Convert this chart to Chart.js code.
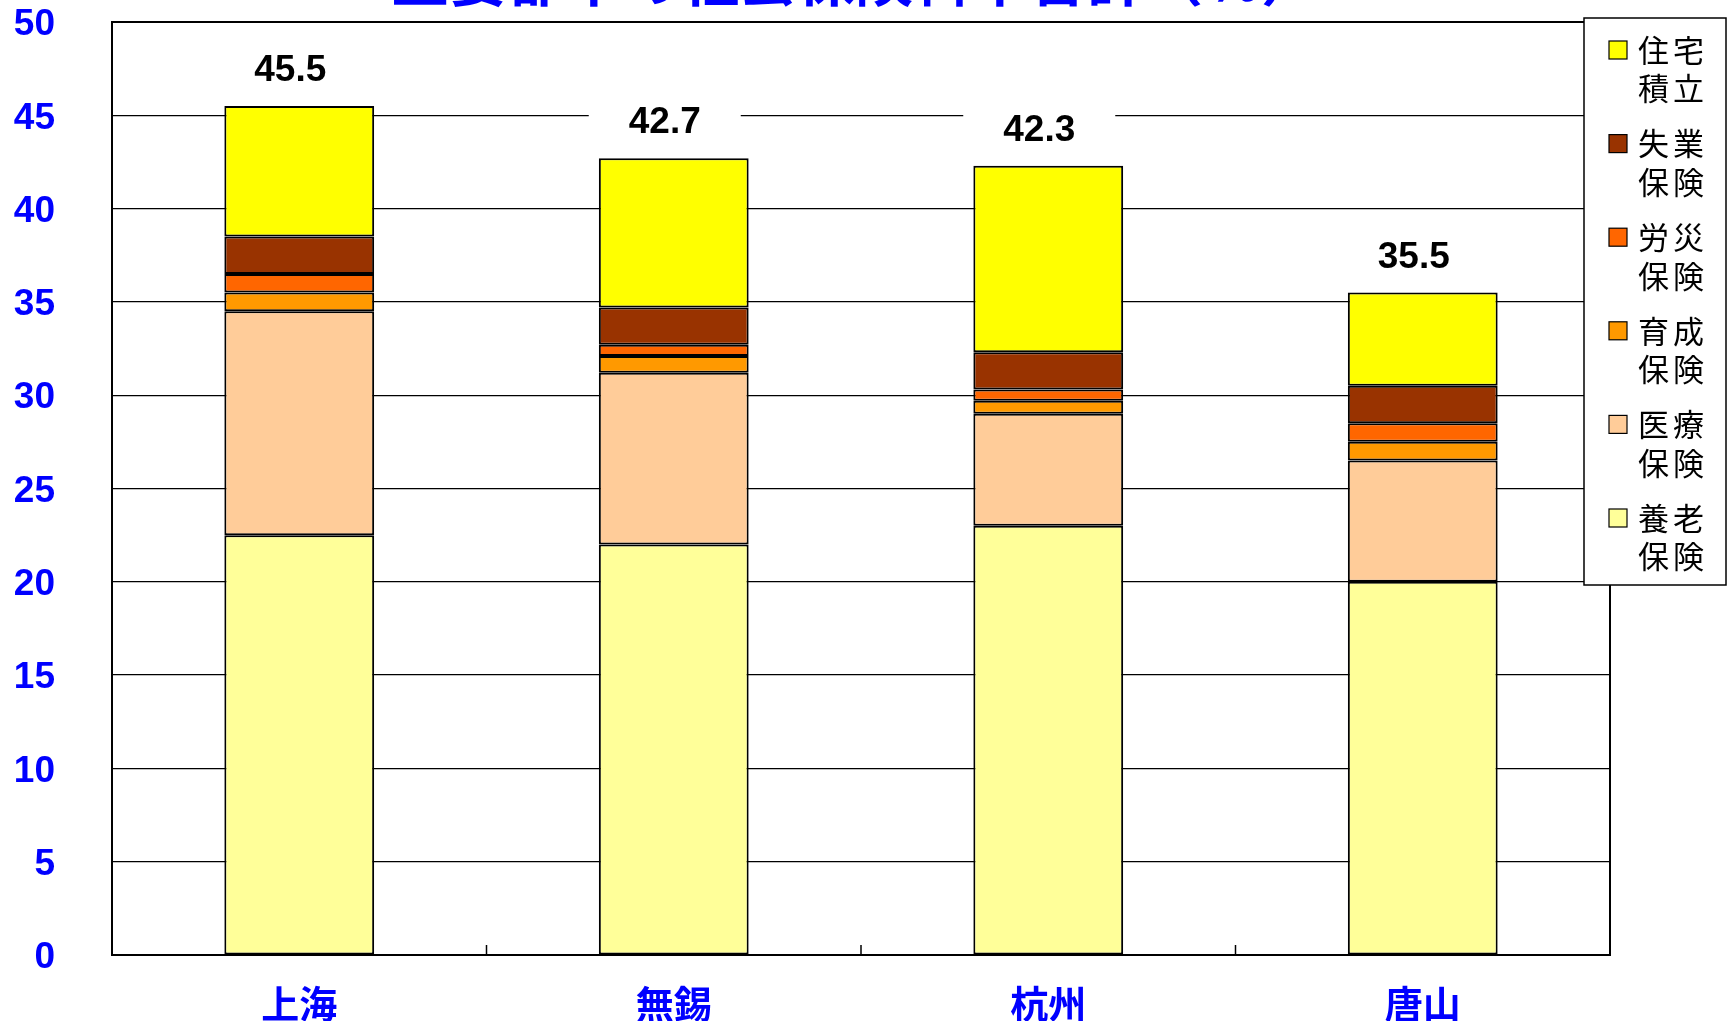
<!DOCTYPE html>
<html>
<head>
<meta charset="utf-8">
<script src="https://cdn.jsdelivr.net/npm/chart.js@4"></script>
<style>
    html, body { margin: 0; padding: 0; background: #fff; }
    #wrap { width: 1734px; height: 1021px; }
</style>
</head>
<body>
<div id="wrap"><canvas id="ratesChart" width="1734" height="1021"></canvas></div>
<script>
// Data (%)
const cities = ['上海', '無錫', '杭州', '唐山'];
const pension = [22.5, 22, 23, 20];        // 養老保険
const medical = [12, 9.2, 6, 6.5];         // 医療保険
const maternity = [1, 0.9, 0.7, 1];        // 育成保険
const injury = [1, 0.6, 0.6, 1];           // 労災保険
const unemployment = [2, 2, 2, 2];         // 失業保険
const housing = [7, 8, 10, 5];             // 住宅積立
const yTicks = [0, 5, 10, 15, 20, 25, 30, 35, 40, 45, 50];

const titleText = '主要都市の社会保険料率合計（％）';
const blue = '#0000FF';
const jpFont = '"Noto Sans CJK JP", "Noto Sans", sans-serif';
const latinFont = '"Liberation Sans", Arial, sans-serif';

const series = [
    { name: '養老保険', data: pension, color: '#FFFF99' },
    { name: '医療保険', data: medical, color: '#FFCC99' },
    { name: '育成保険', data: maternity, color: '#FF9900' },
    { name: '労災保険', data: injury, color: '#FF6600' },
    { name: '失業保険', data: unemployment, color: '#993300' },
    { name: '住宅積立', data: housing, color: '#FFFF00' }
];

// frame, inner ticks, totals, legend and the clipped title
const decorations = {
    id: 'decorations',
    afterDatasetsDraw(chart) {
        const ctx = chart.ctx;
        const area = chart.chartArea;
        const x = chart.scales.x;
        const y = chart.scales.y;
        ctx.save();

        // plot frame
        ctx.strokeStyle = '#000';
        ctx.lineWidth = 2;
        ctx.strokeRect(area.left, area.top, area.right - area.left, area.bottom - area.top);

        // small tick marks between categories
        ctx.lineWidth = 1.5;
        for (let i = 0; i < cities.length - 1; i++) {
            const bx = (x.getPixelForValue(i) + x.getPixelForValue(i + 1)) / 2;
            ctx.beginPath();
            ctx.moveTo(bx, area.bottom);
            ctx.lineTo(bx, area.bottom - 10);
            ctx.stroke();
        }

        // totals on top of each bar
        ctx.font = 'bold 37px ' + latinFont;
        ctx.textAlign = 'center';
        ctx.textBaseline = 'middle';
        cities.forEach((c, i) => {
            const total = series.reduce((s, d) => s + d.data[i], 0);
            const cx = x.getPixelForValue(i) - 9;
            const cy = y.getPixelForValue(total) - 35;
            ctx.fillStyle = '#fff';
            ctx.fillRect(cx - 76, cy - 22, 152, 44);
            ctx.fillStyle = '#000';
            ctx.fillText(total.toFixed(1), cx, cy);
        });

        // legend box drawn over the plot corner
        const lx = 1584, ly = 18, lw = 142, lh = 567;
        ctx.fillStyle = '#fff';
        ctx.fillRect(lx, ly, lw, lh);
        ctx.strokeStyle = '#000';
        ctx.lineWidth = 1.5;
        ctx.strokeRect(lx, ly, lw, lh);
        ctx.font = '31px ' + jpFont;
        ctx.textAlign = 'left';
        series.slice().reverse().forEach((s, k) => {
            const rowY = 50 + k * 93.6;
            ctx.fillStyle = s.color;
            ctx.fillRect(1609, rowY - 9, 18, 18);
            ctx.lineWidth = 1.2;
            ctx.strokeRect(1609, rowY - 9, 18, 18);
            ctx.fillStyle = '#000';
            const chars = s.name.split('');
            chars.forEach((ch, j) => {
                const line = Math.floor(j / 2);
                const col = j % 2;
                ctx.fillText(ch, 1638 + col * 35, rowY + line * 38.7);
            });
        });

        // title sits mostly above the canvas, only its foot shows
        ctx.font = 'bold 58px ' + jpFont;
        ctx.textAlign = 'center';
        ctx.textBaseline = 'alphabetic';
        ctx.fillStyle = blue;
        ctx.fillText(titleText, 855, 1);

        ctx.restore();
    }
};

const ctx = document.getElementById('ratesChart').getContext('2d');
const ratesChart = new Chart(ctx, {
    type: 'bar',
    data: {
        labels: cities,
        datasets: series.map(s => ({
            label: s.name,
            data: s.data,
            backgroundColor: s.color,
            borderColor: '#000',
            borderWidth: 2,
            borderSkipped: false,
            categoryPercentage: 1,
            barPercentage: 0.4
        }))
    },
    options: {
        responsive: false,
        animation: false,
        layout: { padding: { top: 22, right: 124, left: 0, bottom: 0 } },
        plugins: {
            legend: { display: false },
            tooltip: { enabled: false }
        },
        scales: {
            x: {
                stacked: true,
                grid: { display: false, drawTicks: false },
                border: { display: false },
                ticks: {
                    color: blue,
                    font: { family: jpFont, size: 38, weight: 'bold' },
                    padding: 26
                },
                afterFit: s => {
                    s.height = 66;
                    s.paddingLeft = 0;
                    s.paddingRight = 0;
                }
            },
            y: {
                stacked: true,
                min: 0,
                max: 50,
                afterBuildTicks: s => { s.ticks = yTicks.map(v => ({ value: v })); },
                grid: { color: '#000', lineWidth: 1.2, drawTicks: false },
                border: { display: false },
                ticks: {
                    color: blue,
                    font: { family: latinFont, size: 37, weight: 'bold' },
                    padding: 57,
                    labelOffset: 3
                },
                afterFit: s => {
                    s.width = 112;
                    s.paddingTop = 0;
                    s.paddingBottom = 0;
                }
            }
        }
    },
    plugins: [decorations]
});
</script>
</body>
</html>
